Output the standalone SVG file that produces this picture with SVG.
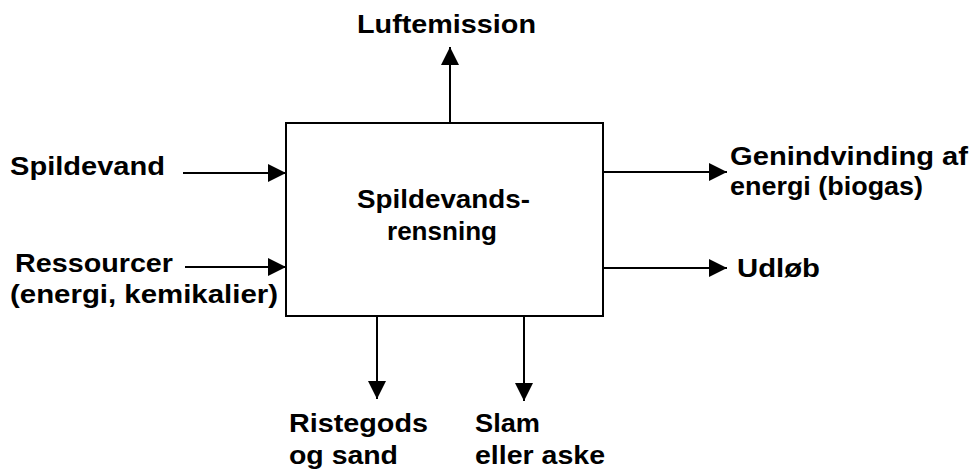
<svg xmlns="http://www.w3.org/2000/svg" width="972" height="470" viewBox="0 0 972 470">
  <style>
    .lbl { font-family: "Liberation Sans", Arial, sans-serif; font-weight: bold; font-size: 25.5px; fill: #000; }
    .edge { stroke: #000; stroke-width: 2; fill: none; marker-end: url(#head); }
    .box { fill: #fff; stroke: #000; stroke-width: 2; }
  </style>
  <defs>
    <marker id="head" viewBox="0 0 18 18" refX="18" refY="9" markerWidth="18" markerHeight="18" markerUnits="userSpaceOnUse" orient="auto">
      <path d="M0,0 L18,9 L0,18 Z" fill="#000"/>
    </marker>
  </defs>
  <rect width="972" height="470" fill="#fff"/>

  <!-- process box -->
  <g id="process">
    <rect class="box" x="286" y="123" width="317" height="193"/>
    <text class="lbl" x="357" y="208" textLength="173" lengthAdjust="spacingAndGlyphs">Spildevands-</text>
    <text class="lbl" x="387" y="240" textLength="110" lengthAdjust="spacingAndGlyphs">rensning</text>
  </g>

  <!-- flows in and out -->
  <g id="connectors">
    <line class="edge" x1="450" y1="123" x2="450" y2="47"/>
    <line class="edge" x1="183" y1="173" x2="286" y2="173"/>
    <line class="edge" x1="185" y1="267" x2="286" y2="267"/>
    <line class="edge" x1="603" y1="172" x2="727" y2="172"/>
    <line class="edge" x1="603" y1="268" x2="727" y2="268"/>
    <line class="edge" x1="377" y1="316" x2="377" y2="399"/>
    <line class="edge" x1="524" y1="316" x2="524" y2="401"/>
  </g>

  <g id="luftemission">
    <text class="lbl" x="357" y="33" textLength="179" lengthAdjust="spacingAndGlyphs">Luftemission</text>
  </g>
  <g id="spildevand">
    <text class="lbl" x="10" y="175" textLength="155" lengthAdjust="spacingAndGlyphs">Spildevand</text>
  </g>
  <g id="ressourcer">
    <text class="lbl" x="15" y="272" textLength="158" lengthAdjust="spacingAndGlyphs">Ressourcer</text>
    <text class="lbl" x="10" y="303" textLength="268" lengthAdjust="spacingAndGlyphs">(energi, kemikalier)</text>
  </g>
  <g id="genindvinding">
    <text class="lbl" x="730" y="165" textLength="238" lengthAdjust="spacingAndGlyphs">Genindvinding af</text>
    <text class="lbl" x="730" y="195" textLength="193" lengthAdjust="spacingAndGlyphs">energi (biogas)</text>
  </g>
  <g id="udloeb">
    <text class="lbl" x="737" y="277" textLength="83" lengthAdjust="spacingAndGlyphs">Udløb</text>
  </g>
  <g id="ristegods">
    <text class="lbl" x="289" y="432" textLength="139" lengthAdjust="spacingAndGlyphs">Ristegods</text>
    <text class="lbl" x="289" y="464" textLength="109" lengthAdjust="spacingAndGlyphs">og sand</text>
  </g>
  <g id="slam">
    <text class="lbl" x="475" y="432" textLength="65" lengthAdjust="spacingAndGlyphs">Slam</text>
    <text class="lbl" x="475" y="464" textLength="130" lengthAdjust="spacingAndGlyphs">eller aske</text>
  </g>
</svg>
